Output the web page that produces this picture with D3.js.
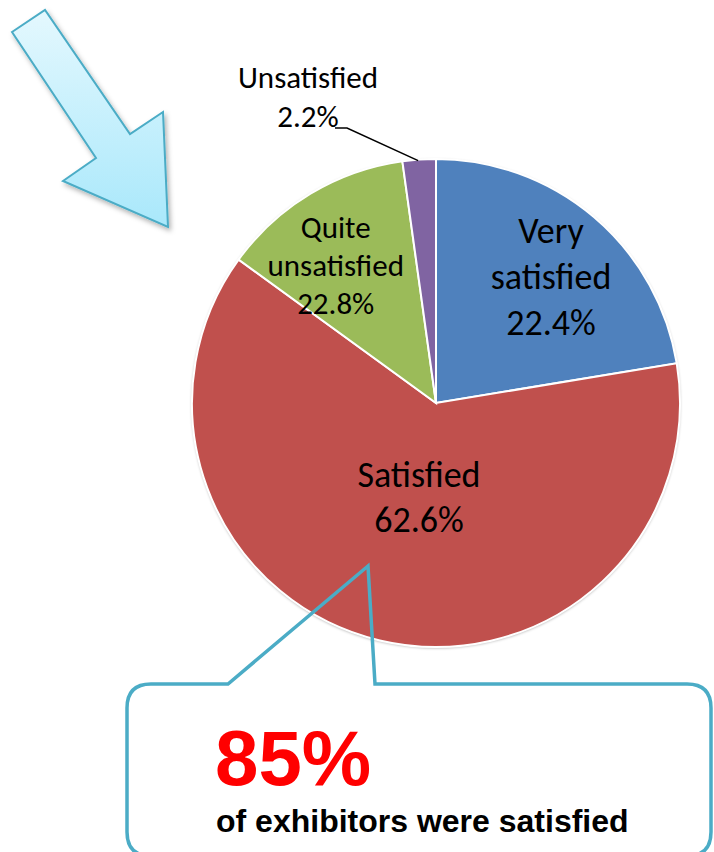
<!DOCTYPE html>
<html>
<head>
<meta charset="utf-8">
<script src="https://cdn.jsdelivr.net/npm/d3@7"></script>
<style>
  body { margin: 0; background: #fff; }
  svg { display: block; }
</style>
</head>
<body>
<div id="plot"></div>
<script>
// data
const categories = ["Very satisfied", "Satisfied", "Quite unsatisfied", "Unsatisfied"];
const values = [22.4, 62.6, 12.8, 2.2];          // slice sizes (angles)
const labelTexts = ["22.4%", "62.6%", "22.8%", "2.2%"]; // printed as on the original
const colors = ["#4f81bd", "#c0504d", "#9bbb59", "#8064a2"];
const calloutBig = "85%";
const calloutText = "of exhibitors were satisfied";

const width = 714, height = 852;
const cx = 436, cy = 403, radius = 244;

const svg = d3.select("#plot").append("svg")
    .attr("width", width)
    .attr("height", height)
    .attr("viewBox", [0, 0, width, height]);

const defs = svg.append("defs");
const grad = defs.append("linearGradient")
    .attr("id", "arrowGrad")
    .attr("x1", "0").attr("y1", "0").attr("x2", "0").attr("y2", "1");
grad.append("stop").attr("offset", "0%").attr("stop-color", "#e4f8fe");
grad.append("stop").attr("offset", "100%").attr("stop-color", "#a9e8fb");

const shadow = defs.append("filter").attr("id", "shadow")
    .attr("x", "-20%").attr("y", "-20%").attr("width", "140%").attr("height", "140%");
shadow.append("feDropShadow")
    .attr("dx", 2).attr("dy", 3).attr("stdDeviation", 2.5)
    .attr("flood-color", "#000").attr("flood-opacity", 0.3);

const pieShadow = defs.append("filter").attr("id", "pieShadow")
    .attr("x", "-10%").attr("y", "-10%").attr("width", "120%").attr("height", "120%");
pieShadow.append("feDropShadow")
    .attr("dx", 0).attr("dy", 1).attr("stdDeviation", 1.5)
    .attr("flood-color", "#000").attr("flood-opacity", 0.35);

// arrow
const arrowPts = [[12, 32], [45, 10], [130, 134], [163, 112], [168, 227], [63, 181], [96, 158]];
svg.append("path")
    .attr("d", d3.line()(arrowPts) + "Z")
    .attr("fill", "url(#arrowGrad)")
    .attr("stroke", "#4bacc6")
    .attr("stroke-width", 2)
    .attr("stroke-linejoin", "miter")
    .attr("filter", "url(#shadow)");

// pie
const pie = d3.pie().sort(null).value(d => d)(values);
const arc = d3.arc().innerRadius(0).outerRadius(radius);

const g = svg.append("g").attr("transform", `translate(${cx},${cy})`);

g.append("circle").attr("r", radius).attr("fill", "#fff").attr("filter", "url(#pieShadow)");

g.selectAll("path.slice")
    .data(pie)
    .enter()
    .append("path")
    .attr("class", "slice")
    .attr("d", arc)
    .attr("fill", (d, i) => colors[i])
    .attr("stroke", "#fff")
    .attr("stroke-width", 2);

// labels inside slices (r = fraction of radius, da = angle nudge in degrees)
const labelFont = "Carlito, Lato, 'Open Sans', sans-serif";
const inside = [
    { i: 0, r: 0.70, da: 2, lines: ["Very", "satisfied"], size: 36, lh: 46 },
    { i: 1, r: 0.39, da: -3, lines: ["Satisfied"], size: 36, lh: 45 },
    { i: 2, r: 0.70, da: -5, lines: ["Quite", "unsatisfied"], size: 31, lh: 38 }
];
inside.forEach(l => {
    const p = pie[l.i];
    const a = (p.startAngle + p.endAngle) / 2 + l.da * Math.PI / 180;
    const x = radius * l.r * Math.sin(a);
    const y = -radius * l.r * Math.cos(a);
    const lines = l.lines.concat([labelTexts[l.i]]);
    const t = g.append("text")
        .attr("text-anchor", "middle")
        .attr("font-family", labelFont)
        .attr("font-size", l.size)
        .attr("fill", "#000");
    const n = lines.length;
    lines.forEach((s, k) => {
        t.append("tspan")
            .attr("x", x)
            .attr("y", y + (k - (n - 1) / 2) * l.lh + l.size * 0.35)
            .text(s);
    });
});

// outside label for the small slice
const p3 = pie[3];
const edge = d3.arc().innerRadius(radius).outerRadius(radius).centroid(p3);
const lx = 308 - cx, ly = 88 - cy;
const ol = g.append("text")
    .attr("text-anchor", "middle")
    .attr("font-family", labelFont)
    .attr("font-size", 31)
    .attr("fill", "#000");
ol.append("tspan").attr("x", lx).attr("y", ly).text(categories[3]);
ol.append("tspan").attr("x", lx).attr("y", ly + 39).text(labelTexts[3]);
g.append("path")
    .attr("d", d3.line()([[lx + 27, ly + 40], [lx + 39, ly + 40], [edge[0] - 1, edge[1] + 1]]))
    .attr("fill", "none")
    .attr("stroke", "#000")
    .attr("stroke-width", 1.5);

// callout box
const bx = 127, by = 684, br = 24, bRight = 711, bBottom = 856;
const tip = [368, 566], baseL = 228, baseR = 375;
const callout = `M${bx},${by + br}
  Q${bx},${by} ${bx + br},${by}
  H${baseL} L${tip[0]},${tip[1]} L${baseR},${by}
  H${bRight - br} Q${bRight},${by} ${bRight},${by + br}
  V${bBottom - br} Q${bRight},${bBottom} ${bRight - br},${bBottom}
  H${bx + br} Q${bx},${bBottom} ${bx},${bBottom - br} Z`;
svg.append("path")
    .attr("d", callout)
    .attr("fill", "none")
    .attr("stroke", "#4bacc6")
    .attr("stroke-width", 3.5)
    .attr("stroke-linejoin", "miter");

svg.append("text")
    .attr("x", 215)
    .attr("y", 785)
    .attr("font-family", "Arial, 'Liberation Sans', sans-serif")
    .attr("font-weight", "bold")
    .attr("font-size", 78)
    .attr("fill", "#ff0000")
    .text(calloutBig);

svg.append("text")
    .attr("x", 216)
    .attr("y", 832)
    .attr("font-family", "Arial, 'Liberation Sans', sans-serif")
    .attr("font-weight", "bold")
    .attr("font-size", 32)
    .attr("fill", "#000")
    .text(calloutText);
</script>
</body>
</html>
